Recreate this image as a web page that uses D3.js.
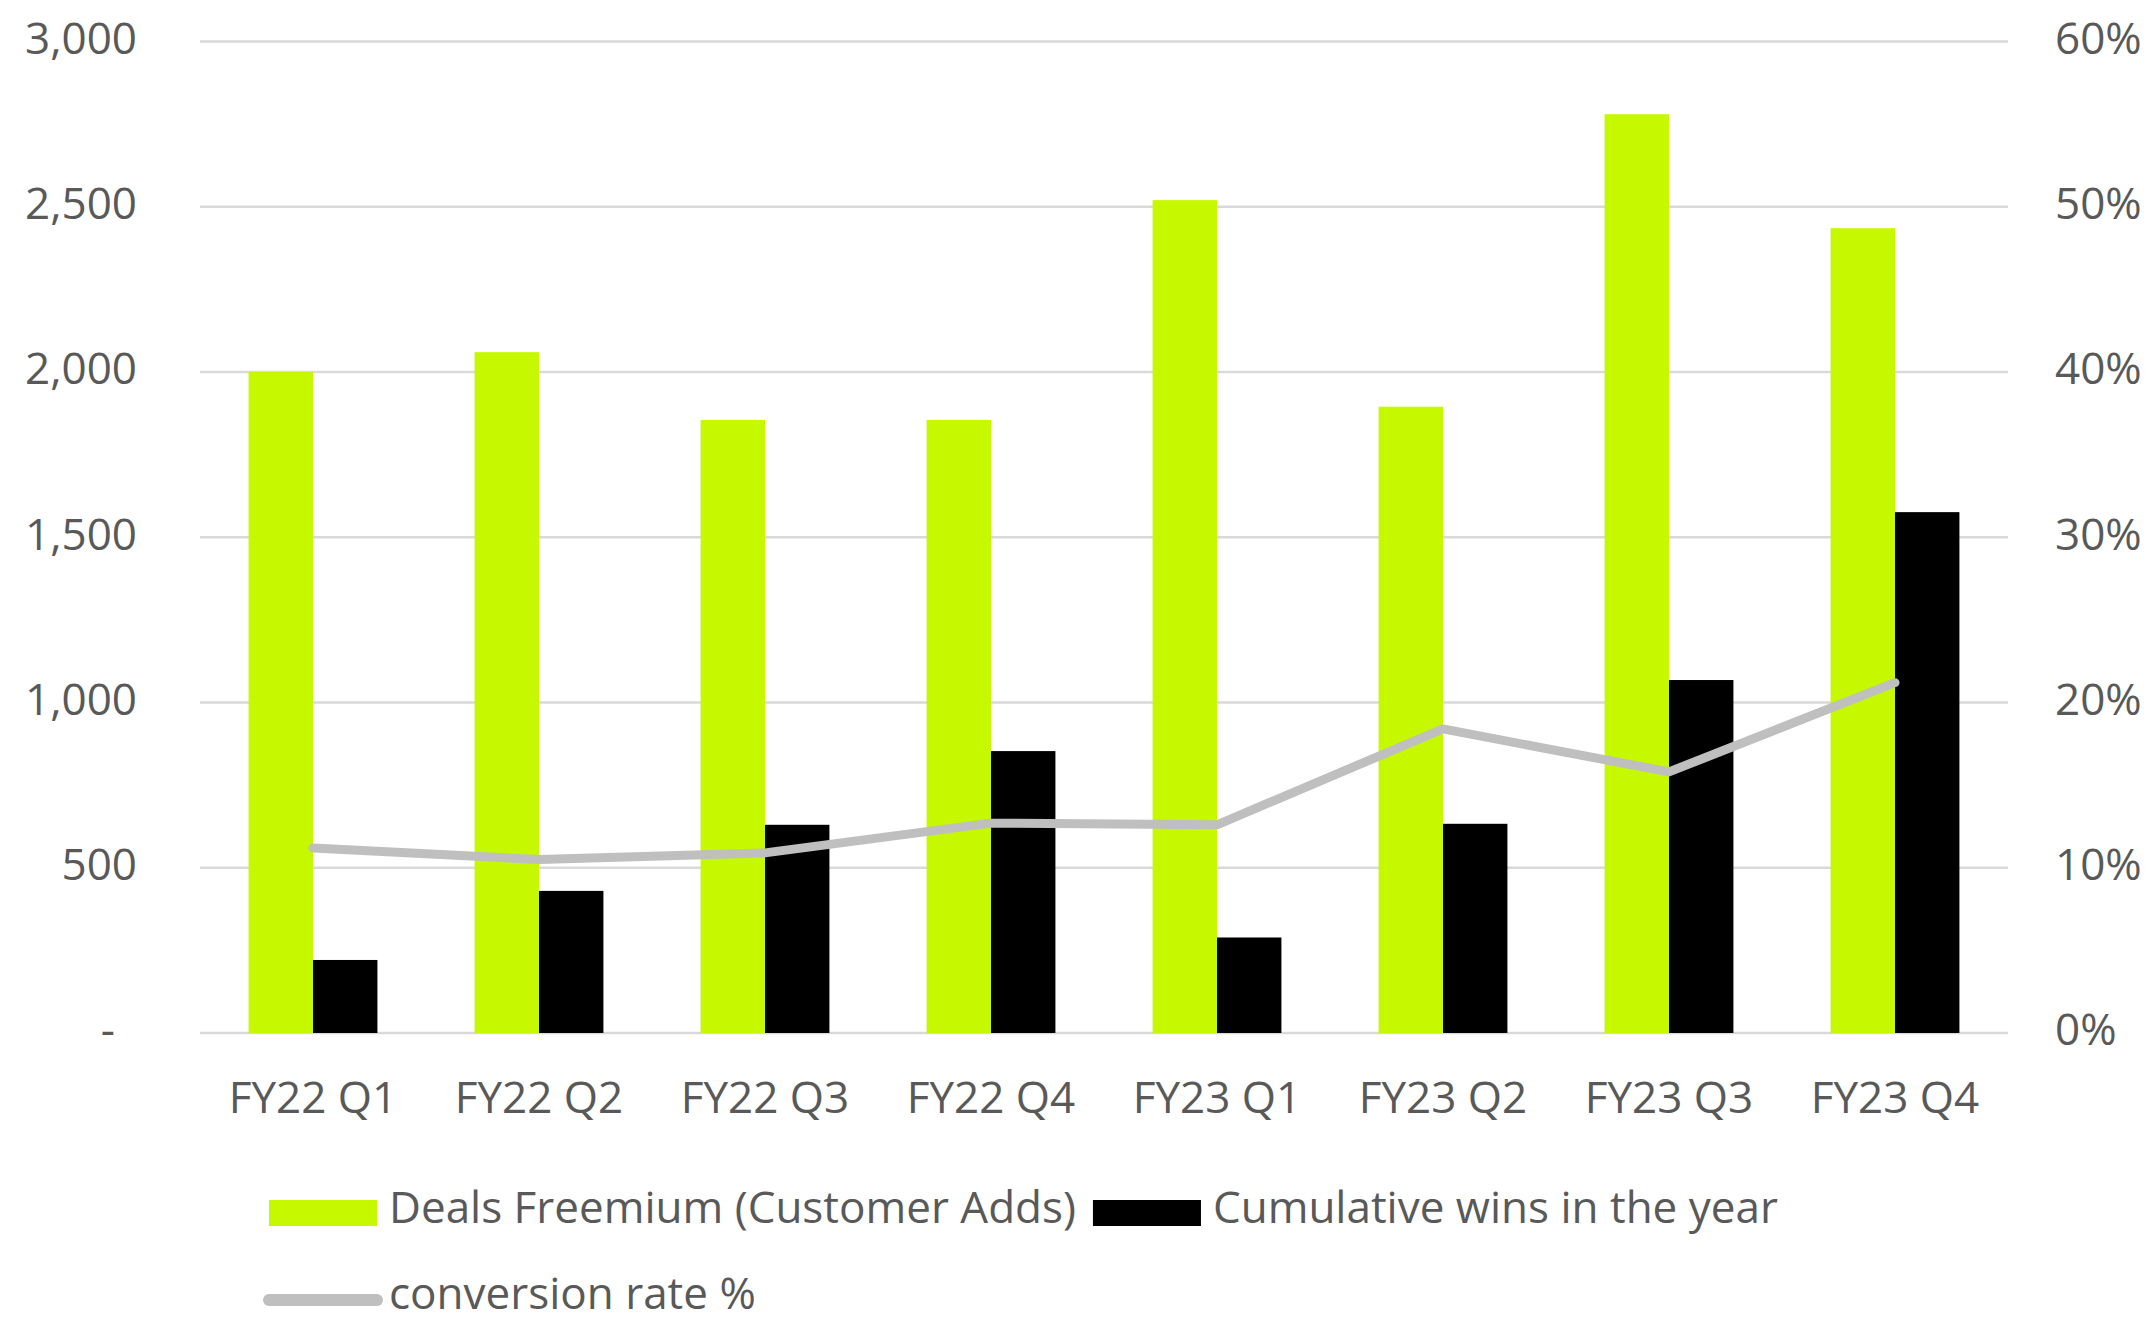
<!DOCTYPE html>
<html>
<head>
<meta charset="utf-8">
<script src="https://cdn.jsdelivr.net/npm/d3@7"></script>
<style>
  html, body { margin: 0; padding: 0; background: #fff; }
  svg text { font-family: "Open Sans", "Noto Sans", sans-serif; fill: #595959; }
</style>
</head>
<body>
<div id="chartArea"></div>
<script>
// data
var categories = ["FY22 Q1", "FY22 Q2", "FY22 Q3", "FY22 Q4", "FY23 Q1", "FY23 Q2", "FY23 Q3", "FY23 Q4"];
var dealsFreemium = [2000, 2060, 1855, 1855, 2520, 1895, 2780, 2435];
var cumulativeWins = [221, 430, 630, 853, 289, 633, 1068, 1576];
var conversionRate = [0.112, 0.105, 0.109, 0.127, 0.126, 0.184, 0.158, 0.212];
var leftTicks = [0, 500, 1000, 1500, 2000, 2500, 3000];
var rightTicks = [0, 0.1, 0.2, 0.3, 0.4, 0.5, 0.6];
var seriesNames = ["Deals Freemium (Customer Adds)", "Cumulative wins in the year", "conversion rate %"];

var width = 2146;
var height = 1322;
var plot = {left: 200, right: 2008, top: 41.5, bottom: 1033};

var svg = d3.select("#chartArea")
    .append("svg")
    .attr("width", width)
    .attr("height", height);

// scales
var x0 = d3.scaleBand()
    .domain(categories)
    .range([plot.left, plot.right])
    .padding(0);
var step = x0.step();
var x1 = d3.scaleBand()
    .domain(["deals", "wins"])
    .range([step * 0.215, step * 0.785])
    .padding(0);
var yLeft = d3.scaleLinear()
    .domain([0, 3000])
    .range([plot.bottom, plot.top]);
var yRight = d3.scaleLinear()
    .domain([0, 0.6])
    .range([plot.bottom, plot.top]);

// gridlines
svg.append("g")
    .selectAll("line")
    .data(leftTicks)
    .enter().append("line")
    .attr("x1", plot.left)
    .attr("x2", plot.right)
    .attr("y1", function (d) { return yLeft(d); })
    .attr("y2", function (d) { return yLeft(d); })
    .attr("stroke", "#d9d9d9")
    .attr("stroke-width", 2.5);

// left axis
var gLeft = svg.append("g")
    .attr("transform", "translate(137,0)")
    .call(d3.axisLeft(yLeft)
        .tickValues(leftTicks)
        .tickSize(0)
        .tickPadding(0)
        .tickFormat(function (d) { return d === 0 ? "-" : d3.format(",")(d); }));
gLeft.select(".domain").remove();
gLeft.selectAll("text")
    .attr("font-size", 44)
    .attr("dy", "0.27em")
    .attr("x", function (d) { return d === 0 ? -22 : 0; })
    .style("font-family", null)
    .attr("fill", null);

// right axis
var gRight = svg.append("g")
    .attr("transform", "translate(2055,0)")
    .call(d3.axisRight(yRight)
        .tickValues(rightTicks)
        .tickSize(0)
        .tickPadding(0)
        .tickFormat(d3.format(".0%")));
gRight.select(".domain").remove();
gRight.selectAll("text")
    .attr("font-size", 44)
    .attr("dy", "0.27em")
    .style("font-family", null)
    .attr("fill", null);

// x axis labels
var gBottom = svg.append("g")
    .attr("transform", "translate(0,1113)")
    .call(d3.axisBottom(x0).tickSize(0).tickPadding(0));
gBottom.select(".domain").remove();
gBottom.selectAll("text")
    .attr("font-size", 44)
    .attr("dy", 0)
    .attr("y", 0)
    .style("font-family", null)
    .attr("fill", null);

// bars
var rows = categories.map(function (c, i) {
    return {cat: c, deals: dealsFreemium[i], wins: cumulativeWins[i], rate: conversionRate[i]};
});
var barColor = {deals: "#c6f800", wins: "#000000"};

svg.append("g")
    .selectAll("g")
    .data(rows)
    .enter().append("g")
    .attr("transform", function (d) { return "translate(" + x0(d.cat) + ",0)"; })
    .selectAll("rect")
    .data(function (d) { return [{key: "deals", v: d.deals}, {key: "wins", v: d.wins}]; })
    .enter().append("rect")
    .attr("x", function (d) { return x1(d.key); })
    .attr("width", x1.bandwidth())
    .attr("y", function (d) { return yLeft(d.v); })
    .attr("height", function (d) { return yLeft(0) - yLeft(d.v); })
    .attr("fill", function (d) { return barColor[d.key]; });

// conversion line
var line = d3.line()
    .x(function (d) { return x0(d.cat) + step / 2; })
    .y(function (d) { return yRight(d.rate); });
svg.append("path")
    .datum(rows)
    .attr("d", line)
    .attr("fill", "none")
    .attr("stroke", "#bfbfbf")
    .attr("stroke-width", 9)
    .attr("stroke-linejoin", "round")
    .attr("stroke-linecap", "round");

// legend
var legend = svg.append("g");
var lx = 269;
var row1 = [{name: seriesNames[0], color: barColor.deals}, {name: seriesNames[1], color: barColor.wins}];
row1.forEach(function (item) {
    legend.append("rect")
        .attr("x", lx).attr("y", 1200)
        .attr("width", 108).attr("height", 26)
        .attr("fill", item.color);
    var t = legend.append("text")
        .attr("x", lx + 120).attr("y", 1223)
        .attr("font-size", 44)
        .text(item.name);
    lx = lx + 120 + t.node().getComputedTextLength() + 17;
});
legend.append("line")
    .attr("x1", 269).attr("x2", 377)
    .attr("y1", 1300).attr("y2", 1300)
    .attr("stroke", "#bfbfbf")
    .attr("stroke-width", 12)
    .attr("stroke-linecap", "round");
legend.append("text")
    .attr("x", 389).attr("y", 1309)
    .attr("font-size", 44)
    .text(seriesNames[2]);
</script>
</body>
</html>
